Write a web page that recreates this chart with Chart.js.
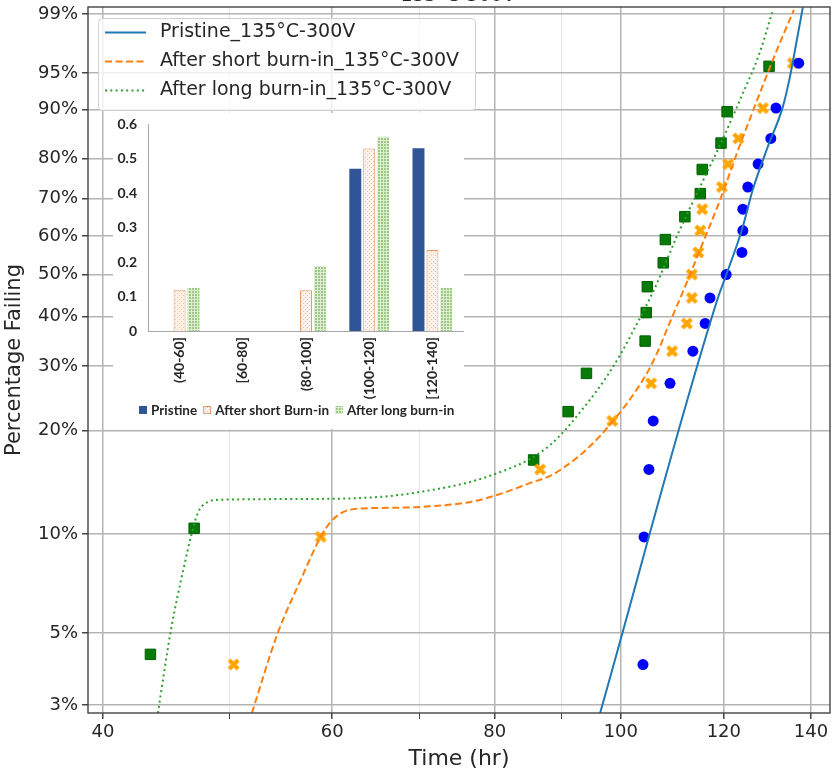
<!DOCTYPE html>
<html>
<head>
<meta charset="utf-8">
<script src="https://cdn.jsdelivr.net/npm/chart.js@4.4.1/dist/chart.umd.min.js"></script>
<style>
  html, body { margin: 0; padding: 0; background: #fff; }
  #wrap { position: relative; width: 832px; height: 774px; }
  #main { position: absolute; left: 0; top: 0; }
  #inset { position: absolute; left: 113px; top: 113px; width: 351px; height: 316px; background: #fff; }
</style>
</head>
<body>
<div id="wrap">
  <canvas id="main" width="832" height="774"></canvas>
  <div id="inset"><canvas id="insetChart" width="351" height="316"></canvas></div>
</div>
<script>
// axis ticks
const timeTicks = [40, 60, 80, 100, 120, 140];
const minorTimeTicks = [50, 70, 90];
const percentTicks = [3, 5, 10, 20, 30, 40, 50, 60, 70, 80, 90, 95, 99];

// failure times (hr) and median ranks (%)
const pristineHours = [104.0, 104.2, 105.1, 105.9, 109.1, 113.6, 116.1, 117.1, 120.5, 123.9, 124.1, 124.1, 125.2, 127.5, 130.4, 131.6, 137.0];
const pristinePct = [4.0, 9.8, 15.5, 21.3, 27.0, 32.8, 38.5, 44.3, 50.0, 55.7, 61.5, 67.2, 73.0, 78.7, 84.5, 90.2, 96.0];
const shortHours = [50.4, 58.8, 86.7, 98.5, 105.5, 109.5, 112.4, 113.4, 113.4, 114.7, 115.1, 115.5, 119.6, 120.9, 123.1, 128.6, 135.6];
const shortPct = [4.0, 9.8, 15.5, 21.3, 27.0, 32.8, 38.5, 44.3, 50.0, 55.7, 61.5, 67.2, 73.0, 78.7, 84.5, 90.2, 96.0];
const longHours = [43.5, 47.0, 85.7, 91.1, 94.1, 104.4, 104.6, 104.8, 107.8, 108.2, 112.0, 115.1, 115.5, 119.4, 120.7, 130.0];
const longPct = [4.3, 10.4, 16.5, 22.6, 28.7, 34.8, 40.9, 47.0, 53.0, 59.1, 65.2, 71.3, 77.4, 83.5, 89.6, 95.7];

// fitted distributions
const pristineFitHours = [96.4, 118.6, 120.5, 123.9, 126.3, 129.7, 133.2, 134.9, 136.1, 138.0];
const pristineFitPct = [2.83, 43.8, 49.9, 61.7, 72.3, 82.7, 90.4, 94.6, 97.1, 99.2];
const shortFitHours = [52.05, 54.5, 56.75, 58.8, 59.84, 61.23, 63.1, 65.37, 70.16, 76.64, 81.24, 85.21, 88.27, 91.45, 94.23, 96.42, 98.49, 100.78, 102.93, 104.77, 106.64, 109.11, 112.44, 115.05, 119.2, 123.48, 127.92, 131.82, 135.84];
const shortFitPct = [2.83, 5.01, 7.27, 9.81, 10.87, 11.64, 11.9, 11.95, 12.04, 12.45, 13.24, 14.16, 14.85, 16.19, 17.76, 19.34, 21.17, 23.44, 26.09, 28.79, 32.47, 38.84, 48.18, 56.38, 69.66, 83.11, 92.53, 97.11, 99.13];
const longFitHours = [44.08, 45.11, 46.16, 46.73, 47.31, 48.15, 49.01, 56.75, 65.37, 70.16, 76.64, 81.24, 85.21, 88.27, 90.64, 93.08, 95.57, 97.62, 99.89, 102.03, 104.4, 106.64, 110.47, 115.05, 119.2, 123.48, 127.92, 130.89];
const longFitPct = [2.83, 5.12, 7.96, 9.81, 11.56, 12.45, 12.63, 12.7, 12.89, 13.33, 14.26, 15.35, 16.63, 18.24, 20.1, 22.57, 25.44, 28.27, 32.09, 36.49, 41.98, 47.94, 60.08, 73.04, 83.11, 91.5, 96.96, 99.13];

// inset histogram
const binLabels = ['(40-60]', '[60-80]', '(80-100]', '(100-120]', '[120-140]'];
const pristineShare = [0, 0, 0, 0.47, 0.53];
const shortShare = [0.118, 0, 0.118, 0.529, 0.235];
const longShare = [0.125, 0, 0.188, 0.563, 0.125];

const weib = p => Math.log(-Math.log(1 - p / 100));
const toPoints = (hours, pct) => hours.map((h, i) => ({ x: h, y: weib(pct[i]) }));

const textColor = '#262626';
const mainFont = 'DejaVu Sans';

// filled "X" marker
const xMarker = (() => {
  const c = document.createElement('canvas');
  c.width = 13; c.height = 13;
  const g = c.getContext('2d');
  g.strokeStyle = '#ffa500';
  g.lineWidth = 4.2;
  g.beginPath();
  g.moveTo(2, 2); g.lineTo(11, 11);
  g.moveTo(11, 2); g.lineTo(2, 11);
  g.stroke();
  return c;
})();

const overlay = {
  id: 'overlay',
  afterDatasetsDraw(chart) {
    const { ctx, chartArea: a } = chart;
    ctx.save();
    // frame
    ctx.strokeStyle = '#444';
    ctx.lineWidth = 1.4;
    ctx.strokeRect(a.left, a.top, a.right - a.left, a.bottom - a.top);

    // title, mostly above the page
    ctx.fillStyle = textColor;
    ctx.font = '19px "' + mainFont + '"';
    ctx.textAlign = 'center';
    ctx.textBaseline = 'alphabetic';
    ctx.fillText('135°C-300V', 458, 1);

    // legend for the fitted lines
    const items = chart.data.datasets.filter(d => d.showLine);
    ctx.beginPath();
    ctx.roundRect(98.5, 18.5, 377, 92, 4);
    ctx.fillStyle = 'rgba(255,255,255,0.8)';
    ctx.fill();
    ctx.strokeStyle = '#d0d0d0';
    ctx.lineWidth = 1;
    ctx.stroke();
    ctx.textAlign = 'left';
    ctx.textBaseline = 'middle';
    items.forEach((d, i) => {
      const y = 32.5 + i * 29;
      ctx.beginPath();
      ctx.setLineDash(d.borderDash || []);
      ctx.strokeStyle = d.borderColor;
      ctx.lineWidth = d.borderWidth;
      ctx.moveTo(105, y);
      ctx.lineTo(146, y);
      ctx.stroke();
      ctx.setLineDash([]);
      ctx.fillStyle = textColor;
      ctx.fillText(d.label, 160, y);
    });
    ctx.restore();
  }
};

const fitLine = (label, hours, pct, color, dash) => ({
  label,
  data: toPoints(hours, pct),
  showLine: true,
  borderColor: color,
  borderWidth: 2,
  borderDash: dash,
  pointRadius: 0,
  cubicInterpolationMode: 'monotone',
  fill: false
});

new Chart(document.getElementById('main'), {
  type: 'scatter',
  data: {
    datasets: [
      fitLine('Pristine_135°C-300V', pristineFitHours, pristineFitPct, '#1f77b4', []),
      fitLine('After short burn-in_135°C-300V', shortFitHours, shortFitPct, '#ff7f0e', [7, 3.5]),
      fitLine('After long burn-in_135°C-300V', longFitHours, longFitPct, '#2ca02c', [2, 3.3]),
      {
        label: 'Pristine',
        data: toPoints(pristineHours, pristinePct),
        pointStyle: 'circle',
        pointRadius: 5.5,
        backgroundColor: '#0000ff',
        borderColor: '#0000ff',
        borderWidth: 0
      },
      {
        label: 'After short burn-in',
        data: toPoints(shortHours, shortPct),
        pointStyle: xMarker,
        pointRadius: 6
      },
      {
        label: 'After long burn-in',
        data: toPoints(longHours, longPct),
        pointStyle: 'rect',
        pointRadius: 7.4,
        backgroundColor: '#087a08',
        borderColor: '#006000',
        borderWidth: 1
      }
    ]
  },
  options: {
    responsive: false,
    animation: false,
    layout: { autoPadding: false, padding: { top: 7, right: 2, left: 0, bottom: 0 } },
    plugins: { legend: { display: false }, tooltip: { enabled: false } },
    scales: {
      x: {
        type: 'logarithmic',
        min: 38.95,
        max: 144.8,
        afterBuildTicks: s => {
          s.ticks = [...timeTicks, ...minorTimeTicks].sort((a, b) => a - b).map(v => ({ value: v }));
        },
        afterFit: s => { s.height = 61; s.paddingLeft = 0; s.paddingRight = 0; },
        ticks: {
          autoSkip: false,
          maxRotation: 0,
          padding: 3,
          color: textColor,
          font: { family: mainFont, size: 18 },
          callback: v => timeTicks.includes(v) ? String(v) : ''
        },
        grid: {
          color: c => timeTicks.includes(c.tick && c.tick.value) ? '#b4b4b4' : '#e6e6e6',
          lineWidth: c => timeTicks.includes(c.tick && c.tick.value) ? 1.5 : 1,
          tickLength: 6,
          tickColor: '#444'
        },
        border: { display: false },
        title: {
          display: true,
          text: 'Time (hr)',
          color: textColor,
          font: { family: mainFont, size: 22 },
          padding: { top: 0, bottom: 2 }
        }
      },
      y: {
        type: 'linear',
        min: weib(2.83),
        max: weib(99.21),
        afterBuildTicks: s => { s.ticks = percentTicks.map(p => ({ value: weib(p) })); },
        afterFit: s => { s.width = 88; s.paddingTop = 0; s.paddingBottom = 0; },
        ticks: {
          autoSkip: false,
          padding: 4,
          color: textColor,
          font: { family: mainFont, size: 18 },
          callback: (v, i) => percentTicks[i] + '%'
        },
        grid: { color: '#b4b4b4', lineWidth: 1.5, tickLength: 6, tickColor: '#444' },
        border: { display: false },
        title: {
          display: true,
          text: 'Percentage Failing',
          color: textColor,
          font: { family: mainFont, size: 21 },
          padding: { top: 2, bottom: 0 }
        }
      }
    }
  },
  plugins: [overlay]
});

// inset: share of failures per time bin
const insetCanvas = document.getElementById('insetChart');
const ictx = insetCanvas.getContext('2d');

function makePattern(size, paint) {
  const c = document.createElement('canvas');
  c.width = size; c.height = size;
  paint(c.getContext('2d'));
  return ictx.createPattern(c, 'repeat');
}

const dotFill = makePattern(4, g => {
  g.fillStyle = '#fdf1e8'; g.fillRect(0, 0, 4, 4);
  g.fillStyle = '#efc3a4'; g.fillRect(0, 0, 1, 1); g.fillRect(2, 2, 1, 1);
});
const checkFill = makePattern(3, g => {
  g.fillStyle = '#9bc97f'; g.fillRect(0, 0, 3, 3);
  g.fillStyle = '#dcedd2'; g.fillRect(0, 0, 3, 1); g.fillRect(0, 0, 1, 3);
});

const tickFont = { family: 'Lato', size: 14, weight: 'bold' };

// key row under the bars
const insetKey = {
  id: 'insetKey',
  afterDraw(chart) {
    const ctx = chart.ctx;
    let x = 26;
    const y = 297;
    ctx.save();
    ctx.font = 'bold 13.5px Lato';
    ctx.textBaseline = 'middle';
    chart.data.datasets.forEach(d => {
      ctx.fillStyle = d.backgroundColor;
      ctx.fillRect(x, y - 4, 8, 8);
      if (d.borderColor && typeof d.borderWidth === 'function') {
        ctx.strokeStyle = d.borderColor;
        ctx.lineWidth = 1;
        ctx.strokeRect(x + 0.5, y - 3.5, 7, 7);
      }
      ctx.fillStyle = textColor;
      ctx.fillText(d.label, x + 12, y + 1);
      x += 12 + ctx.measureText(d.label).width + 6;
    });
    ctx.restore();
  }
};

new Chart(insetCanvas, {
  type: 'bar',
  data: {
    labels: binLabels,
    datasets: [
      { label: 'Pristine', data: pristineShare, backgroundColor: '#2f5597', borderWidth: 0 },
      { label: 'After short Burn-in', data: shortShare, backgroundColor: dotFill, borderColor: '#e39a6c', borderWidth: c => c.raw ? 1 : 0 },
      { label: 'After long burn-in', data: longShare, backgroundColor: checkFill, borderWidth: 0 }
    ]
  },
  options: {
    responsive: false,
    animation: false,
    categoryPercentage: 0.66,
    barPercentage: 0.86,
    layout: { autoPadding: false, padding: { top: 11, right: 0, left: 0, bottom: 30 } },
    plugins: { tooltip: { enabled: false }, legend: { display: false } },
    scales: {
      x: {
        afterFit: s => { s.height = 68; s.paddingLeft = 0; s.paddingRight = 0; },
        grid: { display: false, drawTicks: false },
        border: { display: true, color: '#a6a6a6', width: 1 },
        ticks: { minRotation: 90, maxRotation: 90, autoSkip: false, padding: 6, color: textColor, font: tickFont }
      },
      y: {
        min: 0,
        max: 0.6,
        afterFit: s => { s.width = 35; s.paddingTop = 0; s.paddingBottom = 0; },
        grid: { display: false, drawTicks: false },
        border: { display: true, color: '#a6a6a6', width: 1 },
        ticks: {
          stepSize: 0.1,
          padding: 11,
          color: textColor,
          font: tickFont,
          callback: v => v === 0 ? '0' : v.toFixed(1)
        }
      }
    }
  },
  plugins: [insetKey]
});
</script>
</body>
</html>
